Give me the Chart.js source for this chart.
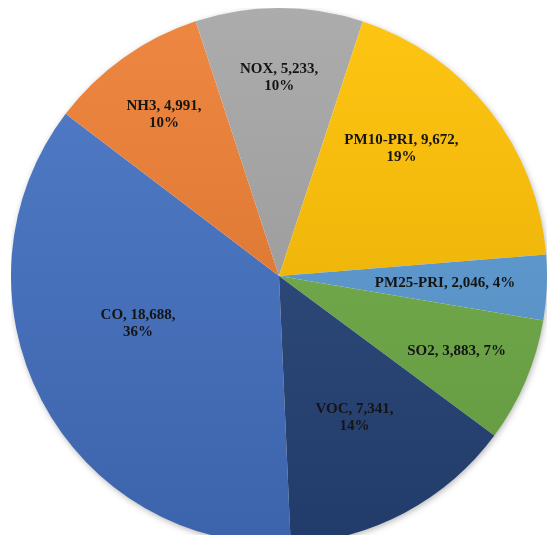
<!DOCTYPE html>
<html>
<head>
<meta charset="utf-8">
<script src="https://cdn.jsdelivr.net/npm/chart.js@4/dist/chart.umd.min.js"></script>
<style>
  html, body { margin: 0; padding: 0; background: #fff; overflow: hidden; width: 548px; height: 535px; }
  #wrap { position: absolute; left: 11px; top: 8px; width: 536px; height: 536px; }
</style>
</head>
<body>
<div id="wrap"><canvas id="pieChart" width="536" height="536"></canvas></div>
<script>
// 数据
const pollutants = ['CO', 'NH3', 'NOX', 'PM10-PRI', 'PM25-PRI', 'SO2', 'VOC'];
const emissions = [18688, 4991, 5233, 9672, 2046, 3883, 7341];
const sliceColors = ['#4472C4', '#ED7D31', '#A5A5A5', '#FFC000', '#5B9BD5', '#70AD47', '#264478'];

// 标签位置: [半径比例, 角度偏移(度)]
const labelPlace = [[0.555, 9], [0.74, 0], [0.74, 0], [0.66, -8], [0.62, 0], [0.72, 0], [0.60, 0]];
const singleLine = ['PM25-PRI', 'SO2'];

const total = emissions.reduce((a, b) => a + b, 0);

function shade(hex, amt) {
    const n = parseInt(hex.slice(1), 16);
    let r = (n >> 16) & 255, g = (n >> 8) & 255, b = n & 255;
    const t = amt > 0 ? 255 : 0, p = Math.abs(amt);
    r = Math.round(r + (t - r) * p);
    g = Math.round(g + (t - g) * p);
    b = Math.round(b + (t - b) * p);
    return 'rgb(' + r + ',' + g + ',' + b + ')';
}

// 渐变填充
function gradientFill(context) {
    const chart = context.chart;
    const base = sliceColors[context.dataIndex];
    const area = chart.chartArea;
    if (!area) return base;
    const g = chart.ctx.createLinearGradient(0, area.top, 0, area.bottom);
    g.addColorStop(0, shade(base, 0.08));
    g.addColorStop(1, shade(base, -0.12));
    return g;
}

// 阴影
const pieShadow = {
    id: 'pieShadow',
    beforeDatasetsDraw(chart) {
        const arc = chart.getDatasetMeta(0).data[0];
        if (!arc) return;
        const ctx = chart.ctx;
        ctx.save();
        ctx.shadowColor = 'rgba(0,0,0,0.35)';
        ctx.shadowBlur = 7;
        ctx.shadowOffsetX = 1;
        ctx.shadowOffsetY = 2;
        ctx.fillStyle = '#fff';
        ctx.beginPath();
        ctx.arc(arc.x, arc.y, arc.outerRadius - 1, 0, Math.PI * 2);
        ctx.fill();
        ctx.restore();
    }
};

// 数据标签
const sliceLabels = {
    id: 'sliceLabels',
    afterDatasetsDraw(chart) {
        const ctx = chart.ctx;
        ctx.save();
        ctx.font = 'bold 15px "Liberation Serif", "Times New Roman", serif';
        ctx.fillStyle = '#141414';
        ctx.textAlign = 'center';
        ctx.textBaseline = 'middle';
        chart.getDatasetMeta(0).data.forEach((arc, i) => {
            const p = arc.getProps(['x', 'y', 'startAngle', 'endAngle', 'outerRadius'], true);
            const mid = (p.startAngle + p.endAngle) / 2 + labelPlace[i][1] * Math.PI / 180;
            const r = p.outerRadius * labelPlace[i][0];
            const cx = p.x + Math.cos(mid) * r;
            const cy = p.y + Math.sin(mid) * r;
            const pct = Math.round(emissions[i] / total * 100) + '%';
            const head = pollutants[i] + ', ' + emissions[i].toLocaleString('en-US') + ',';
            const lines = singleLine.includes(pollutants[i]) ? [head + ' ' + pct] : [head, pct];
            const lh = 17;
            lines.forEach((t, k) => {
                ctx.fillText(t, cx, cy + (k - (lines.length - 1) / 2) * lh);
            });
        });
        ctx.restore();
    }
};

const ctx = document.getElementById('pieChart').getContext('2d');
new Chart(ctx, {
    type: 'pie',
    data: {
        labels: pollutants,
        datasets: [{
            data: emissions,
            backgroundColor: gradientFill,
            borderWidth: 0,
        }],
    },
    options: {
        responsive: false,
        animation: false,
        rotation: 177.5,
        layout: { padding: 0 },
        plugins: {
            legend: { display: false },
            tooltip: { enabled: false },
        },
    },
    plugins: [pieShadow, sliceLabels],
});
</script>
</body>
</html>
